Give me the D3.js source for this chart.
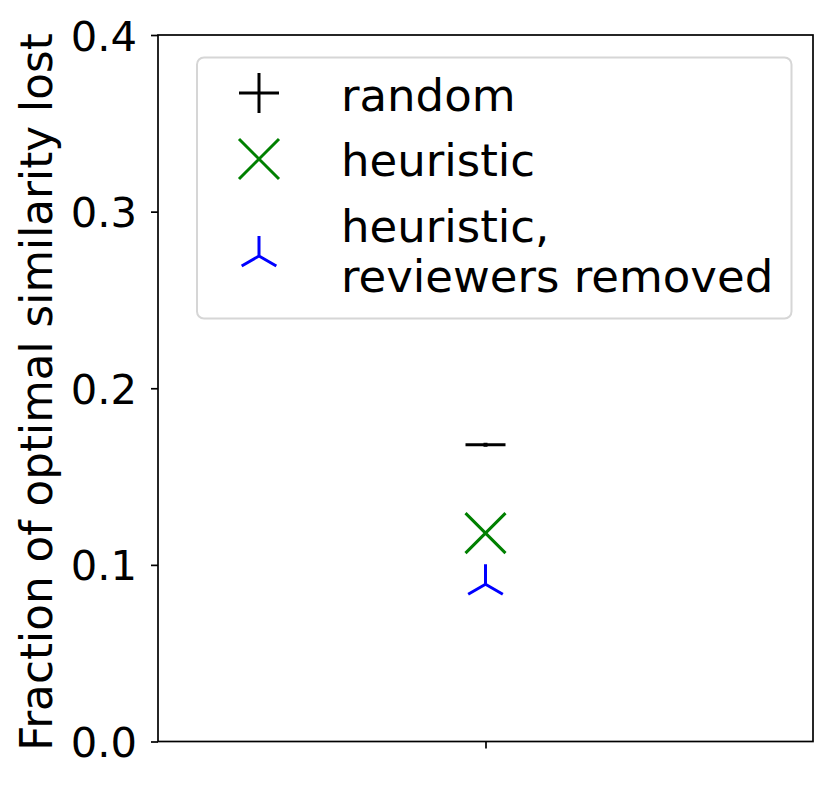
<!DOCTYPE html>
<html>
<head>
<meta charset="utf-8">
<script src="https://cdn.jsdelivr.net/npm/d3@7"></script>
<style>
  html, body { margin: 0; padding: 0; background: #fff; }
  svg { display: block; }
  text { font-family: "DejaVu Sans", sans-serif; }
</style>
</head>
<body>
<svg id="chart" width="832" height="786"></svg>
<script>
// ---- data ----
const seriesNames = ["random", "heuristic", "heuristic,\nreviewers removed"];
const seriesValues = [0.168, 0.118, 0.089];
const seriesColors = ["#000000", "#008000", "#0000ff"];
const seriesMarkers = ["plus", "x", "tri"];
const yTicks = [0.0, 0.1, 0.2, 0.3, 0.4];
const yLabel = "Fraction of optimal similarity lost";

// ---- layout ----
const W = 832, H = 786;
const plot = { left: 158, right: 813, top: 35, bottom: 741.5 };
const svg = d3.select("#chart");

const x = d3.scaleLinear().domain([-1, 1]).range([plot.left, plot.right]);
const y = d3.scaleLinear().domain([0, 0.4]).range([plot.bottom, plot.top]);

const fsTick = 41.7, fsLabel = 43.7, fsLegend = 45;

// markers
function markerPath(type, r) {
  if (type === "plus") return `M${-r},0H${r}M0,${-r}V${r}`;
  if (type === "hline") return `M${-r},0H${r}`;
  if (type === "x") return `M${-r},${-r}L${r},${r}M${-r},${r}L${r},${-r}`;
  if (type === "tri") {
    const c = Math.cos(Math.PI / 6) * r, s = Math.sin(Math.PI / 6) * r;
    return `M0,0V${-r}M0,0L${-c},${s}M0,0L${c},${s}`;
  }
  return "";
}

// y axis
const yAxis = d3.axisLeft(y).tickValues(yTicks).tickFormat(d3.format(".1f")).tickSize(7).tickPadding(14);
const gy = svg.append("g").attr("transform", `translate(${plot.left},0)`).call(yAxis);
gy.select(".domain").remove();
gy.selectAll(".tick line").attr("stroke", "#000").attr("stroke-width", 1.7);
gy.selectAll(".tick text").attr("font-size", fsTick).attr("fill", "#000")
  .attr("font-family", "DejaVu Sans").attr("dy", "0.36em");

// x axis single tick at center
const xAxis = d3.axisBottom(x).tickValues([0]).tickFormat("").tickSize(7);
const gx = svg.append("g").attr("transform", `translate(0,${plot.bottom})`).call(xAxis);
gx.select(".domain").remove();
gx.selectAll(".tick line").attr("stroke", "#000").attr("stroke-width", 1.7);

// frame
svg.append("rect")
  .attr("x", plot.left).attr("y", plot.top)
  .attr("width", plot.right - plot.left).attr("height", plot.bottom - plot.top)
  .attr("fill", "none").attr("stroke", "#000").attr("stroke-width", 1.7);

// y label
svg.append("text")
  .attr("transform", `translate(52,392) rotate(-90)`)
  .attr("text-anchor", "middle")
  .attr("font-size", fsLabel)
  .attr("fill", "#000")
  .text(yLabel);

// data markers
const plotMarkers = ["hline", "x", "tri"];
seriesValues.forEach((v, i) => {
  const g = svg.append("g").attr("transform", `translate(${x(0)},${y(v)})`);
  g.append("path").attr("d", markerPath(plotMarkers[i], 20))
    .attr("fill", "none").attr("stroke", seriesColors[i]).attr("stroke-width", 3);
  if (plotMarkers[i] === "hline") {
    g.append("rect").attr("x", -2).attr("y", -2).attr("width", 4).attr("height", 4).attr("fill", seriesColors[i]);
  }
});

// legend
const lg = svg.append("g");
lg.append("rect")
  .attr("x", 197).attr("y", 57.5).attr("width", 594.5).attr("height", 261)
  .attr("rx", 7).attr("ry", 7)
  .attr("fill", "rgba(255,255,255,0.8)").attr("stroke", "#d6d6d6").attr("stroke-width", 2);

const legendMarkerY = [93, 159, 256];
const legendTextBase = [[111], [176], [242, 292]];
seriesNames.forEach((name, i) => {
  lg.append("path")
    .attr("transform", `translate(259,${legendMarkerY[i]})`)
    .attr("d", markerPath(seriesMarkers[i], 20))
    .attr("fill", "none").attr("stroke", seriesColors[i]).attr("stroke-width", 3);
  const lines = name.split("\n");
  lines.forEach((ln, j) => {
    lg.append("text")
      .attr("x", 341).attr("y", legendTextBase[i][j])
      .attr("font-size", fsLegend).attr("fill", "#000")
      .text(ln);
  });
});
</script>
</body>
</html>
